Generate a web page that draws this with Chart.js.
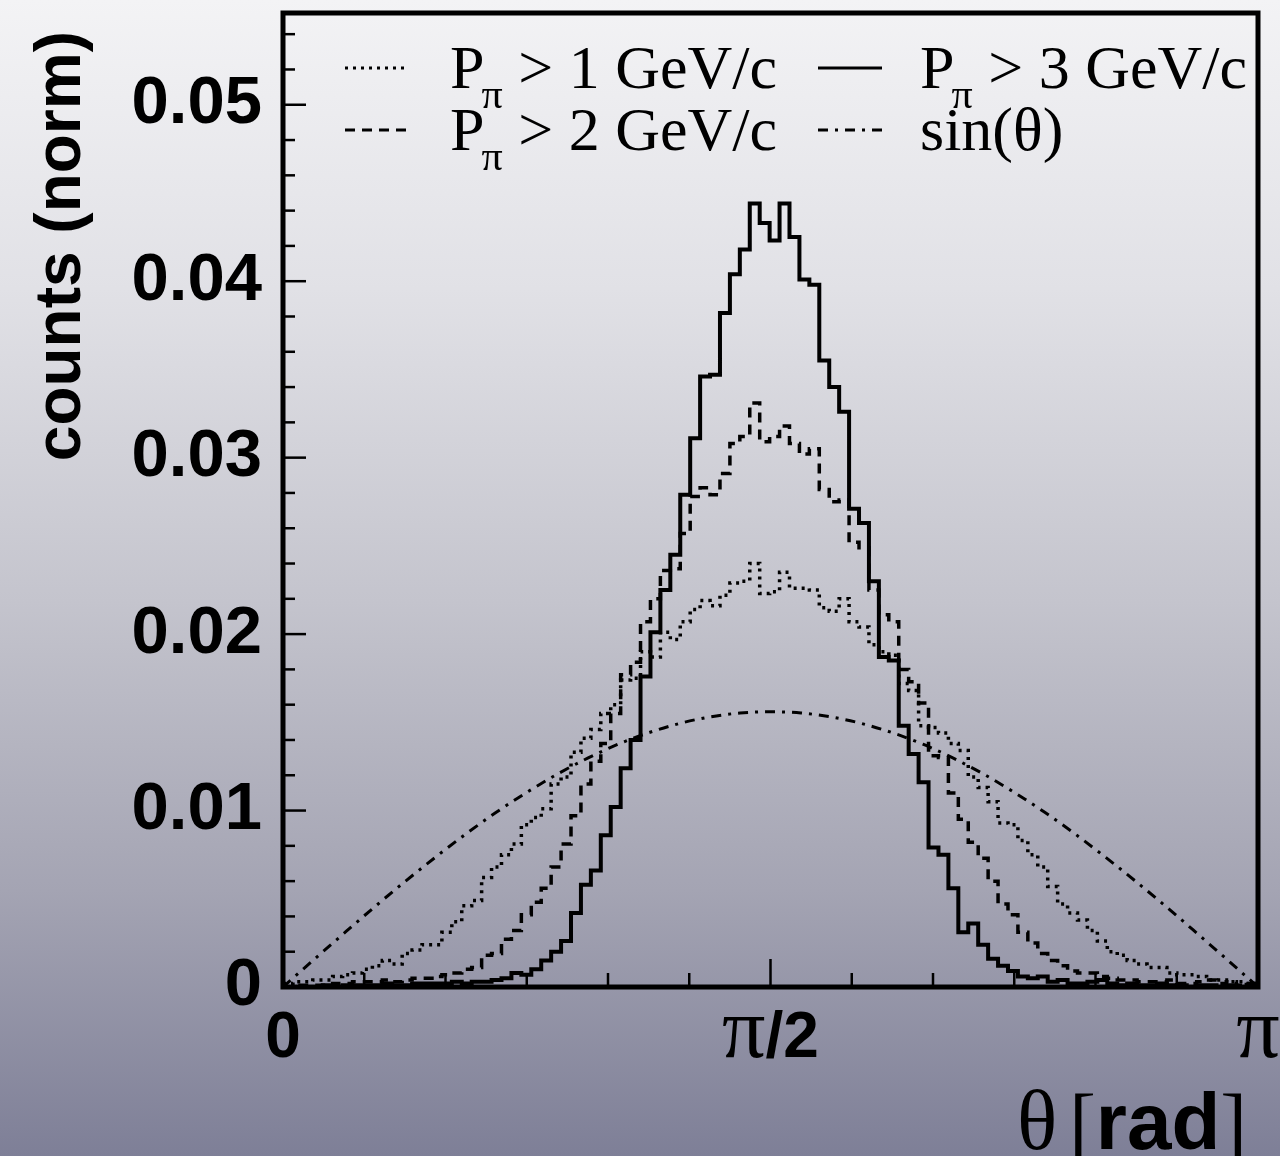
<!DOCTYPE html>
<html>
<head>
<meta charset="utf-8">
<script src="https://cdn.jsdelivr.net/npm/chart.js@4.4.0/dist/chart.umd.min.js"></script>
<style>
html,body{margin:0;padding:0;}
body{width:1280px;height:1156px;overflow:hidden;
background:linear-gradient(to bottom, rgb(243,243,245) 0%, rgb(225,225,230) 25%, rgb(196,196,205) 52%, rgb(164,164,179) 77%, rgb(126,127,151) 100%);}
#wrap{position:relative;width:1280px;height:1156px;}
canvas{display:block;}
</style>
</head>
<body>
<div id="wrap"><canvas id="c" width="1280" height="1156"></canvas></div>
<script>
// histogram binning (rad): bins of 0.032 starting at 0
const binWidth = 0.032;

// P_pi > 1 GeV/c (dotted)
const pGt1 = [0.0002,0.0003,0.0003,0.0004,0.0004,0.0006,0.0007,0.0008,0.0010,0.0012,
  0.0015,0.0013,0.0019,0.0021,0.0024,0.0024,0.0031,0.0037,0.0046,0.0049,
  0.0062,0.0068,0.0075,0.0081,0.0092,0.0096,0.0101,0.0115,0.0119,0.0133,
  0.0141,0.0146,0.0155,0.0160,0.0174,0.0175,0.0190,0.0187,0.0201,0.0197,
  0.0207,0.0214,0.0219,0.0216,0.0222,0.0229,0.0230,0.0240,0.0223,0.0224,
  0.0235,0.0226,0.0226,0.0225,0.0215,0.0213,0.0220,0.0207,0.0204,0.0194,
  0.0190,0.0188,0.0172,0.0168,0.0148,0.0147,0.0144,0.0138,0.0134,0.0119,
  0.0113,0.0105,0.0093,0.0092,0.0083,0.0075,0.0068,0.0057,0.0047,0.0042,
  0.0038,0.0032,0.0026,0.0020,0.0018,0.0015,0.0013,0.0011,0.0011,0.0008,
  0.0007,0.0007,0.0006,0.0004,0.0004,0.0003,0.0003,0.0002,0.0001];

// P_pi > 2 GeV/c (dashed)
const pGt2 = [0.0000,0.0001,0.0001,0.0001,0.0001,0.0002,0.0002,0.0003,0.0003,0.0003,
  0.0004,0.0003,0.0004,0.0005,0.0005,0.0006,0.0007,0.0008,0.0010,0.0011,
  0.0018,0.0019,0.0027,0.0032,0.0041,0.0048,0.0056,0.0068,0.0081,0.0097,
  0.0115,0.0128,0.0138,0.0155,0.0177,0.0184,0.0207,0.0220,0.0236,0.0237,
  0.0257,0.0278,0.0283,0.0279,0.0291,0.0308,0.0312,0.0331,0.0309,0.0312,
  0.0318,0.0308,0.0302,0.0305,0.0282,0.0275,0.0276,0.0252,0.0249,0.0225,
  0.0211,0.0207,0.0180,0.0173,0.0161,0.0131,0.0130,0.0110,0.0095,0.0082,
  0.0073,0.0060,0.0047,0.0041,0.0031,0.0025,0.0019,0.0015,0.0012,0.0009,
  0.0008,0.0008,0.0006,0.0005,0.0004,0.0004,0.0003,0.0003,0.0003,0.0004,
  0.0002,0.0002,0.0003,0.0004,0.0002,0.0003,0.0001,0.0002,0.0001];

// P_pi > 3 GeV/c (solid)
const pGt3 = [0.0000,0.0000,0.0000,0.0000,0.0001,0.0000,0.0001,0.0001,0.0001,0.0001,
  0.0002,0.0001,0.0001,0.0002,0.0002,0.0002,0.0002,0.0003,0.0002,0.0003,
  0.0003,0.0004,0.0005,0.0008,0.0007,0.0010,0.0015,0.0020,0.0026,0.0042,
  0.0058,0.0066,0.0086,0.0102,0.0124,0.0140,0.0176,0.0201,0.0225,0.0245,
  0.0279,0.0311,0.0346,0.0347,0.0382,0.0404,0.0418,0.0444,0.0433,0.0423,
  0.0444,0.0425,0.0401,0.0398,0.0355,0.0340,0.0326,0.0271,0.0263,0.0230,
  0.0187,0.0185,0.0148,0.0132,0.0116,0.0079,0.0075,0.0056,0.0031,0.0036,
  0.0024,0.0016,0.0012,0.0009,0.0006,0.0005,0.0006,0.0003,0.0004,0.0002,
  0.0002,0.0003,0.0004,0.0002,0.0001,0.0002,0.0001,0.0001,0.0002,0.0001,
  0.0001,0.0000,0.0001,0.0001,0.0000,0.0001,0.0000,0.0000,0.0000];

// sin(theta) reference curve (normalised), read at theta points
const sinTheta = [0,0.0982,0.1963,0.2945,0.3927,0.4909,0.5890,0.6872,0.7854,0.8836,0.9817,
  1.0799,1.1781,1.2763,1.3744,1.4726,1.5708,1.6690,1.7671,1.8653,1.9635,2.0617,
  2.1598,2.2580,2.3562,2.4544,2.5525,2.6507,2.7489,2.8471,2.9452,3.0434,3.1416];
const sinValue = [0,0.00153,0.00304,0.00453,0.00597,0.00735,0.00867,0.00990,0.01103,0.01206,0.01297,
  0.01376,0.01441,0.01493,0.01530,0.01553,0.01560,0.01553,0.01530,0.01493,0.01441,0.01376,
  0.01297,0.01206,0.01103,0.00990,0.00867,0.00735,0.00597,0.00453,0.00304,0.00153,0];

// axis ticks / labels
const yMax = 0.0552;
const yMajorStep = 0.01;
const yMinorStep = 0.002;
const xTickStep = Math.PI / 12;
const xLabelValues = [0, Math.PI / 2, Math.PI];
const xLabelParts = [[['0','sans']], [['π','serif'],['/2','sans']], [['π','serif']]];
const yTitle = 'counts (norm)';
const legendItems = [
  {num:'1', kind:'dotted', col:0, row:0},
  {num:'2', kind:'dashed', col:0, row:1},
  {num:'3', kind:'solid',  col:1, row:0},
  {num:null, kind:'dashdot', col:1, row:1, text:'sin(θ)'}
];

const SANS = "'Liberation Sans', Arial, Helvetica, sans-serif";
const SERIF = "'Liberation Serif', 'Times New Roman', serif";
const DASH = {dotted:[3,5], dashed:[10,7], solid:[], dashdot:[10,7,3,7]};

function hist(values){
  const pts = values.map((v,i)=>({x:i*binWidth, y:v}));
  pts.push({x:values.length*binWidth, y:values[values.length-1]});
  return pts;
}

function drawSegs(ctx, segs, x, y){
  segs.forEach(s => { ctx.font = s[1]; ctx.fillText(s[0], x, y + (s[2]||0)); x += ctx.measureText(s[0]).width + (s[3]||0); });
}
function segsWidth(ctx, segs){
  let w = 0; segs.forEach(s => { ctx.font = s[1]; w += ctx.measureText(s[0]).width + (s[3]||0); }); return w;
}

const decor = {
  id:'decor',
  afterDatasetsDraw(chart){
    const ctx = chart.ctx, a = chart.chartArea;
    const xs = chart.scales.x, ys = chart.scales.y;
    ctx.save();
    ctx.strokeStyle = '#000'; ctx.fillStyle = '#000';
    // ticks
    ctx.lineWidth = 2.5; ctx.setLineDash([]);
    const nY = Math.round(0.054 / yMinorStep);
    for (let i = 0; i <= nY; i++) {
      const y = ys.getPixelForValue(i * yMinorStep);
      const len = (i % 5 === 0) ? 23 : 12;
      ctx.beginPath(); ctx.moveTo(a.left, y); ctx.lineTo(a.left + len, y); ctx.stroke();
    }
    for (let j = 0; j <= 12; j++) {
      const x = xs.getPixelForValue(j * xTickStep);
      const len = (j % 6 === 0) ? 28 : 14;
      ctx.beginPath(); ctx.moveTo(x, a.bottom); ctx.lineTo(x, a.bottom - len); ctx.stroke();
    }
    // frame
    ctx.lineWidth = 5;
    ctx.strokeRect(a.left, a.top, a.right - a.left, a.bottom - a.top);

    // x tick labels
    ctx.textBaseline = 'alphabetic';
    ctx.textAlign = 'left';
    xLabelValues.forEach((v, idx) => {
      const segs = xLabelParts[idx].map(p => [p[0], p[1] === 'sans' ? `bold 64px ${SANS}` : `86px ${SERIF}`]);
      const w = segsWidth(ctx, segs);
      drawSegs(ctx, segs, xs.getPixelForValue(v) - w / 2, 1057);
    });

    // x title: θ [rad]
    {
      const segs = [['θ', `84px ${SERIF}`, 0, 12], ['[', `80px ${SERIF}`], ['rad', `bold 80px ${SANS}`], [']', `80px ${SERIF}`]];
      const w = segsWidth(ctx, segs);
      drawSegs(ctx, segs, 1247 - w, 1149);
    }

    // y title
    ctx.save();
    ctx.translate(80, a.top + 18);
    ctx.rotate(-Math.PI / 2);
    ctx.font = `bold 64px ${SANS}`;
    ctx.textAlign = 'right';
    ctx.fillText(yTitle, 0, 0);
    ctx.restore();

    // legend
    const colSample = [345, 818], colText = [450, 920], rowY = [68, 130];
    ctx.textAlign = 'left';
    legendItems.forEach(it => {
      const y = rowY[it.row];
      ctx.lineWidth = 3;
      ctx.setLineDash(DASH[it.kind]);
      ctx.beginPath(); ctx.moveTo(colSample[it.col], y); ctx.lineTo(colSample[it.col] + 64, y); ctx.stroke();
      ctx.setLineDash([]);
      const base = y + 20;
      if (it.num !== null) {
        drawSegs(ctx, [['P', `62px ${SERIF}`, 0, -3], ['π', `42px ${SERIF}`, 20], [' > ' + it.num + ' GeV/c', `62px ${SERIF}`]], colText[it.col], base);
      } else {
        drawSegs(ctx, [[it.text, `62px ${SERIF}`]], colText[it.col], base);
      }
    });
    ctx.restore();
  }
};

const ds = (data, kind, w, extra) => Object.assign({
  data, borderColor:'#000', backgroundColor:'#000', borderWidth:w,
  borderDash:DASH[kind], pointRadius:0, fill:false
}, extra);

new Chart(document.getElementById('c'), {
  type:'line',
  data:{ datasets:[
    ds(hist(pGt1), 'dotted', 3.5, {stepped:'before', label:'P>1'}),
    ds(hist(pGt2), 'dashed', 3.5, {stepped:'before', label:'P>2'}),
    ds(hist(pGt3), 'solid', 4, {stepped:'before', label:'P>3'}),
    ds(sinTheta.map((t,i)=>({x:t, y:sinValue[i]})), 'dashdot', 3, {cubicInterpolationMode:'monotone', label:'sin'})
  ]},
  options:{
    responsive:false, animation:false, devicePixelRatio:1,
    layout:{padding:{top:13, right:22, left:0, bottom:0}},
    plugins:{legend:{display:false}, tooltip:{enabled:false}},
    scales:{
      x:{type:'linear', min:0, max:Math.PI,
         ticks:{display:false}, grid:{display:false}, border:{display:false},
         afterFit(s){ s.height = 169; s.paddingLeft = 0; s.paddingRight = 0; }},
      y:{type:'linear', min:0, max:yMax,
         ticks:{stepSize:yMajorStep, includeBounds:false, padding:21, color:'#000',
                font:{family:SANS, weight:'bold', size:67}},
         grid:{display:false, drawTicks:false}, border:{display:false},
         afterFit(s){ s.width = 283; s.paddingTop = 0; s.paddingBottom = 0; }}
    }
  },
  plugins:[decor]
});
</script>
</body>
</html>
